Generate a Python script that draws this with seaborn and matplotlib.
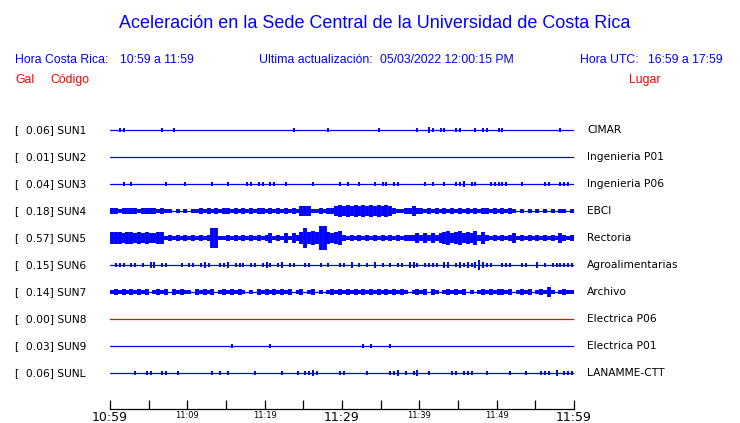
import matplotlib
matplotlib.use("Agg")
import matplotlib.pyplot as plt
import pandas as pd
import seaborn as sns

# window 10:59 .. 11:59, envelope, one digit per 30 s bin
stations = ["SUN1", "SUN2", "SUN3", "SUN4", "SUN5", "SUN6", "SUN7", "SUN8", "SUN9", "SUNL"]
places = ["CIMAR", "Ingenieria P01", "Ingenieria P06", "EBCI", "Rectoria",
          "Agroalimentarias", "Archivo", "Electrica P06", "Electrica P01", "LANAMME-CTT"]
peak_gal = [0.06, 0.01, 0.04, 0.18, 0.57, 0.15, 0.14, 0.00, 0.03, 0.06]
trace_colors = ["blue"] * 7 + ["red"] + ["blue"] * 2

env_sun1 = "0011000000 0001001000 0000000000 0000000000 0000000100 0000001000 0000000001 0000000001 0021011001 1000101100 1100000000 0000001000"
env_sun2 = "0000000000 0000000000 0000000000 0000000000 0000000000 0000000000 0000000000 0000000000 0000000000 0000000000 0000000000 0000000000"
env_sun3 = "0001010000 0000100001 0000001000 1000011011 0110010000 0010000001 0100100010 1101100000 0101001001 1201100011 1110001000 0011001110"
env_sun4 = "2212222122 2212110101 0112121212 2121212122 1212121213 3311212234 3434343434 3432112232 2121212121 2121212212 1212101010 1010101101"
env_sun5 = "4443443434 3344121212 1212127711 2121212121 2312131324 7454994345 2121212121 2121212223 2323234534 5343524212 1212312121 2121213212"
env_sun6 = "0111011010 2201100010 1101210011 2011101101 2101201100 1100101001 1020101020 1010110221 0111102201 2121232110 0111001100 2010111111"
env_sun7 = "1212121212 0121202121 1021212012 1212101021 2121212012 0120101212 1212121212 1212121012 1202101212 1201012121 2212012120 1213101211"
env_sun8 = "0000000000 0000000000 0000000000 0000000000 0000000000 0000000000 0000000000 0000000000 0000000000 0000000000 0000000000 0000000000"
env_sun9 = "0000000000 0000000000 0000000000 0100000000 0100000000 0000000000 0000010100 0010000000 0000000000 0000000000 0000000000 0000000000"
env_sunl = "0000001001 1001100100 0000001010 1000000100 0000100010 1121000001 1000001000 0011201012 0010000011 0111000100 0001000100 0111020111"
envelopes = [env_sun1, env_sun2, env_sun3, env_sun4, env_sun5,
             env_sun6, env_sun7, env_sun8, env_sun9, env_sunl]

window = [0, 60]
tick_minutes = list(range(0, 61, 5))
tick_labels = ["10:59", "", "11:09", "", "11:19", "", "11:29", "", "11:39", "", "11:49", "", "11:59"]
big_labels = ["10:59", "11:29", "11:59"]

spacing = 21.6   # trace offset, in envelope units
floor = 0.7      # any non-zero sample pokes a bit past the baseline
busy = ["SUN4", "SUN5", "SUN7"]   # noisy channels drawn as a solid band

rows = []
base = []
for i, (st, env) in enumerate(zip(stations, envelopes)):
    amps = [int(c) for c in env.replace(" ", "")]
    for b, a in enumerate(amps):
        if a:
            h = a + floor
            rows.append({"station": st, "minute": (b + 0.5) * 0.5,
                         "lo": i * spacing - h, "hi": i * spacing + h, "color": trace_colors[i]})
    for m in window:
        base.append({"station": st, "minute": m, "y": i * spacing})
spikes = pd.DataFrame(rows)
base = pd.DataFrame(base)

sns.set_style("white")
plt.rcParams["font.family"] = "DejaVu Sans"
plt.rcParams["text.color"] = "black"
plt.rcParams["xtick.color"] = "black"

W, H = 740, 423
fig = plt.figure(figsize=(W / 100, H / 100), dpi=100)
ax = fig.add_axes([110 / W, 14 / H, 464 / W, 294 / H])

sns.lineplot(data=base, x="minute", y="y", hue="station",
             palette=dict(zip(stations, trace_colors)), legend=False,
             lw=0.9, ax=ax)
dense = spikes[spikes["station"].isin(busy)]
sparse = spikes[~spikes["station"].isin(busy)]
ax.vlines(dense["minute"], dense["lo"], dense["hi"], colors=dense["color"], lw=2.8)
ax.vlines(sparse["minute"], sparse["lo"], sparse["hi"], colors=sparse["color"], lw=1.4)

px_per_unit = 27 / spacing
ax.set_xlim(0, 60)
ax.set_ylim(279 / px_per_unit, -15 / px_per_unit)
for s in ["top", "left", "right"]:
    ax.spines[s].set_visible(False)
ax.spines["bottom"].set_linewidth(0.9)
ax.spines["bottom"].set_color("black")
ax.set_yticks([])
ax.set_xlabel("")
ax.set_ylabel("")
ax.set_xticks(tick_minutes)
ax.set_xticklabels(tick_labels)
ax.tick_params(axis="x", bottom=True, direction="in", length=6.5, width=0.9, pad=1.5, colors="black")
for lab in ax.get_xticklabels():
    lab.set_fontsize(9 if lab.get_text() in big_labels else 6)


def px(x, y):
    return x / W, 1 - y / H


for i, st in enumerate(stations):
    y = 130 + 27 * i
    fig.text(*px(15, y), f"[  {peak_gal[i]:.2f}] {st}", fontsize=7.7, va="center", ha="left", color="black")
    fig.text(*px(587, y), places[i], fontsize=7.7, va="center", ha="left", color="black")

head = dict(family="Liberation Sans", color="blue", va="center")
fig.text(*px(375, 23), "Aceleración en la Sede Central de la Universidad de Costa Rica",
         fontsize=13.0, ha="center", **head)
fig.text(*px(15, 60), "Hora Costa Rica:", fontsize=8.8, ha="left", **head)
fig.text(*px(120, 60), "10:59 a 11:59", fontsize=8.8, ha="left", **head)
fig.text(*px(259, 60), "Ultima actualización:", fontsize=8.8, ha="left", **head)
fig.text(*px(380, 60), "05/03/2022 12:00:15 PM", fontsize=8.8, ha="left", **head)
fig.text(*px(580, 60), "Hora UTC:", fontsize=8.8, ha="left", **head)
fig.text(*px(723, 60), "16:59 a 17:59", fontsize=8.8, ha="right", **head)

red = dict(family="Liberation Sans", color="red", va="center", fontsize=8.8)
fig.text(*px(15, 80), "Gal", ha="left", **red)
fig.text(*px(50, 80), "Código", ha="left", **red)
fig.text(*px(629, 80), "Lugar", ha="left", **red)

fig.savefig("out.png", dpi=100, facecolor="white")
